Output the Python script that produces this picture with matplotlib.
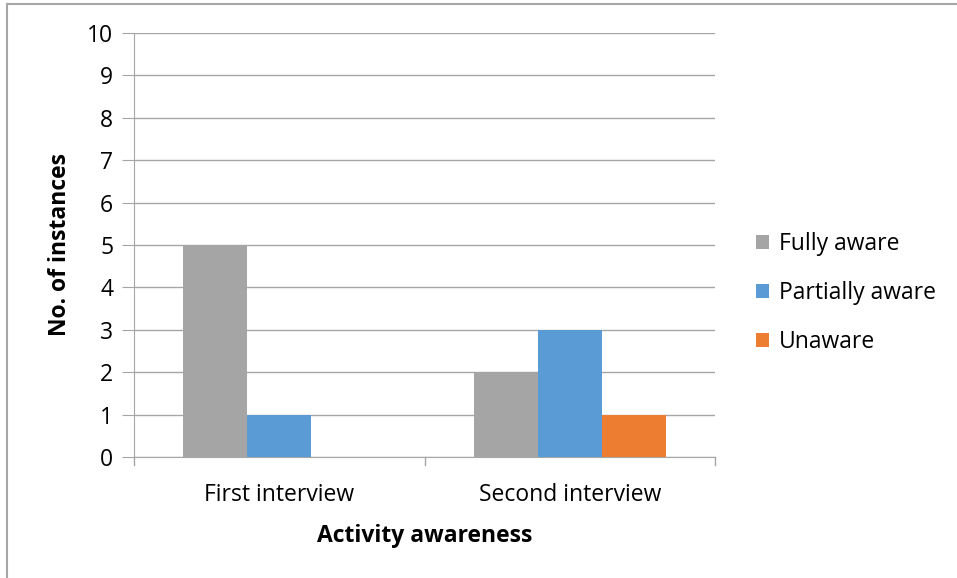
import matplotlib
matplotlib.use("Agg")
import matplotlib.pyplot as plt
from matplotlib.lines import Line2D
import numpy as np

categories = ["First interview", "Second interview"]
series_names = ["Fully aware", "Partially aware", "Unaware"]
fully_aware = [5, 2]
partially_aware = [1, 3]
unaware = [0, 1]
values = [fully_aware, partially_aware, unaware]
colors = ["#a5a5a5", "#5b9bd5", "#ed7d31"]
y_ticks = list(range(0, 11))

plt.rcParams["font.family"] = ["Open Sans", "DejaVu Sans"]
FS = 16.5

W, H = 957, 578
fig = plt.figure(figsize=(W / 100, H / 100), dpi=100)
ax = fig.add_axes([134 / W, (H - 457) / H, (715 - 134) / W, (457 - 33) / H])

x = np.arange(len(categories))
bar_w = 0.22
for i, (name, vals, c) in enumerate(zip(series_names, values, colors)):
    ax.bar(x + (i - 1) * bar_w, vals, width=bar_w, color=c, label=name, zorder=3)

ax.set_xlim(-0.5, len(categories) - 0.5)
ax.set_ylim(0, 10)
ax.set_yticks(y_ticks)
ax.set_yticklabels([str(v) for v in y_ticks], fontsize=FS)
ax.set_xticks(x)
ax.set_xticklabels(categories, fontsize=FS)
ax.tick_params(axis="x", length=0, pad=19)
ax.tick_params(axis="y", length=9, color="#a6a6a6", pad=6)

# category separators on x axis
for pos in [-0.5, 0.5, 1.5]:
    ax.plot([pos, pos], [0, -0.2], color="#a6a6a6", lw=1, clip_on=False, zorder=4)

ax.grid(axis="y", color="#a6a6a6", lw=1, zorder=0)
for s in ["top", "right"]:
    ax.spines[s].set_visible(False)
ax.spines["left"].set_color("#a6a6a6")
ax.spines["bottom"].set_color("#a6a6a6")

ax.set_ylabel("No. of instances", fontsize=FS, fontweight="bold", labelpad=11)
ax.set_xlabel("Activity awareness", fontsize=FS, fontweight="bold", labelpad=12)

leg = fig.legend(*ax.get_legend_handles_labels(), loc="center left",
                 bbox_to_anchor=(756 / W, 1 - 293 / H), frameon=False,
                 fontsize=FS, handlelength=0.55, handleheight=0.55,
                 handletextpad=0.45, labelspacing=1.1, borderpad=0,
                 borderaxespad=0)

# outer frame lines (top and left)
fig.add_artist(Line2D([7 / W, 7 / W], [0, 1 - 4 / H], color="#a6a6a6", lw=1.5))
fig.add_artist(Line2D([7 / W, 1], [1 - 4 / H, 1 - 4 / H], color="#a6a6a6", lw=1.5))

fig.savefig("out.png", dpi=100, facecolor="white")
